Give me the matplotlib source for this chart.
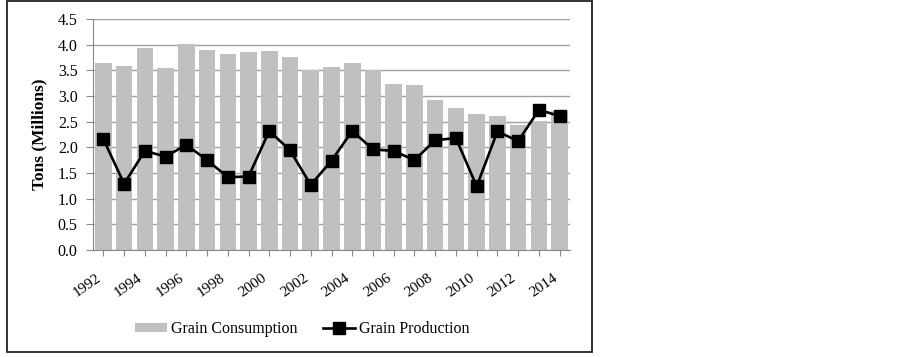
import numpy as np
import matplotlib.pyplot as plt
from matplotlib.patches import Rectangle
from matplotlib.transforms import ScaledTranslation

years = list(range(1992, 2015))
consumption = [3.64, 3.59, 3.93, 3.54, 4.01, 3.90, 3.81, 3.85, 3.87, 3.76, 3.50, 3.57,
               3.65, 3.50, 3.23, 3.22, 2.92, 2.77, 2.64, 2.62, 2.44, 2.52, 2.71]
production = [2.16, 1.29, 1.93, 1.82, 2.05, 1.75, 1.42, 1.43, 2.32, 1.94, 1.27, 1.74,
              2.32, 1.96, 1.93, 1.75, 2.14, 2.18, 1.24, 2.31, 2.12, 2.73, 2.61]
tick_labels = [str(y) if (y - 1992) % 2 == 0 else '' for y in years]

plt.rcParams['font.family'] = ['Liberation Serif', 'DejaVu Serif']

fig = plt.figure(figsize=(9.03, 3.57), dpi=100)
ax = fig.add_axes([93 / 903, 1 - 250 / 357, 477 / 903, 231 / 357])

x = np.arange(len(years))
bars = ax.bar(x, consumption, width=0.8, color='#c0c0c0', label='Grain Consumption', zorder=2)
line, = ax.plot(x, production, color='black', lw=1.9, marker='s', markersize=8,
                label='Grain Production', zorder=3)

ax.set_xlim(-0.5, len(years) - 0.5)
ax.set_ylim(0, 4.5)
ax.set_yticks(np.arange(0, 4.51, 0.5))
ax.set_yticklabels(['%.1f' % v for v in np.arange(0, 4.51, 0.5)], fontsize=11.5)
ax.yaxis.grid(True, color='#a0a0a0', lw=1.0, zorder=1)
ax.set_axisbelow(True)

ax.set_xticks(x)
ax.set_xticklabels(tick_labels, rotation=35, ha='right', fontsize=11)
offset = ScaledTranslation(4 / 72, 0, fig.dpi_scale_trans)
for lab in ax.get_xticklabels():
    lab.set_transform(lab.get_transform() + offset)

ax.tick_params(axis='x', length=4, color='#888888', pad=11)
ax.tick_params(axis='y', length=5, color='#888888', pad=6)
for s in ['top', 'right']:
    ax.spines[s].set_visible(False)
for s in ['left', 'bottom']:
    ax.spines[s].set_color('#888888')

ax.set_ylabel('Tons (Millions)', fontsize=12.5, fontweight='bold')
ax.yaxis.set_label_coords((47 - 93) / 477, 0.5)

fig.legend([bars, line], ['Grain Consumption', 'Grain Production'],
           loc='center left', bbox_to_anchor=(127 / 903, 1 - 329 / 357), ncol=2,
           frameon=False, fontsize=11.5, borderpad=0, handlelength=2.0,
           handleheight=0.55, handletextpad=0.25, columnspacing=1.6)

fig.patches.append(Rectangle((7 / 903, 1 - 352 / 357), 585 / 903, 351 / 357,
                             transform=fig.transFigure, fill=False,
                             edgecolor='#222222', lw=1.3))

fig.savefig('out.png', dpi=100)
